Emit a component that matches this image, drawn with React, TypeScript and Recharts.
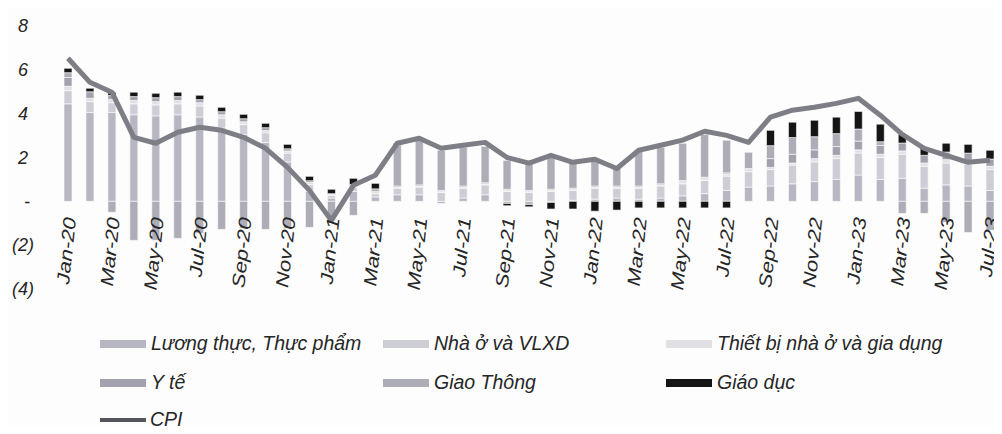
import React from 'react';
import { ComposedChart, Bar, Line, XAxis, YAxis, Legend } from 'recharts';

const months = [
  'Jan-20', 'Feb-20', 'Mar-20', 'Apr-20', 'May-20', 'Jun-20', 'Jul-20', 'Aug-20', 'Sep-20', 'Oct-20', 'Nov-20', 'Dec-20',
  'Jan-21', 'Feb-21', 'Mar-21', 'Apr-21', 'May-21', 'Jun-21', 'Jul-21', 'Aug-21', 'Sep-21', 'Oct-21', 'Nov-21', 'Dec-21',
  'Jan-22', 'Feb-22', 'Mar-22', 'Apr-22', 'May-22', 'Jun-22', 'Jul-22', 'Aug-22', 'Sep-22', 'Oct-22', 'Nov-22', 'Dec-22',
  'Jan-23', 'Feb-23', 'Mar-23', 'Apr-23', 'May-23', 'Jun-23', 'Jul-23',
];

// contributions to CPI, percentage points
const food = [
  4.45, 4.05, 4.05, 3.95, 3.9, 3.95, 3.85, 3.35, 3.05, 2.68, 1.8, 0.46,
  0.15, 0.45, 0.2, 0.3, 0.3, -0.1, 0.15, 0.3, -0.1, -0.15, -0.05, 0.05,
  0.1, 0.15, 0.1, 0.15, 0.25, 0.35, 0.5, 0.65, 0.7, 0.8, 0.9, 1.0,
  1.2, 1.0, 1.05, 0.6, 0.75, 0.7, 0.5,
];
const housing = [
  0.6, 0.5, 0.45, 0.5, 0.5, 0.5, 0.5, 0.45, 0.45, 0.45, 0.4, 0.3,
  0.12, 0.2, 0.15, 0.3, 0.35, 0.4, 0.45, 0.45, 0.45, 0.4, 0.45, 0.45,
  0.5, 0.45, 0.5, 0.55, 0.55, 0.6, 0.65, 0.7, 0.75, 0.85, 0.9, 0.95,
  1.0, 1.0, 1.1, 1.0, 1.0, 1.0, 0.95,
];
const equipment = [
  0.2, 0.15, 0.15, 0.15, 0.15, 0.15, 0.15, 0.15, 0.13, 0.1, 0.1, 0.1,
  0.05, 0.05, 0.05, 0.05, 0.05, 0.05, 0.05, 0.05, 0.05, 0.05, 0.05, 0.05,
  0.05, 0.05, 0.05, 0.05, 0.1, 0.1, 0.1, 0.1, 0.1, 0.1, 0.15, 0.15,
  0.15, 0.15, 0.15, 0.15, 0.15, 0.15, 0.15,
];
const health = [
  0.4, 0.3, 0.18, 0.18, 0.18, 0.18, 0.14, 0.14, 0.14, 0.13, 0.1, 0.08,
  0.03, 0.07, 0.05, 0.05, 0.05, 0.05, 0.05, 0.05, 0.05, 0.05, 0.05, 0.05,
  0.05, 0.05, 0.05, 0.05, 0.05, 0.05, 0.05, 0.05, 0.4, 0.4, 0.4, 0.4,
  0.4, 0.4, 0.36, 0.35, 0.35, 0.35, 0.33,
];
const transport = [
  0.22, 0.0, -0.5, -1.78, -1.78, -1.69, -1.46, -1.28, -1.23, -1.28, -1.23, -1.19,
  -0.87, -0.64, 0.12, 1.85, 2.04, 1.83, 1.77, 1.66, 1.32, 1.24, 1.45, 1.14,
  1.17, 0.8, 1.63, 1.67, 1.7, 1.96, 1.49, 0.74, 0.59, 0.76, 0.6, 0.59,
  0.55, 0.17, -0.55, -0.55, -0.96, -1.42, -1.32,
];
const education = [
  0.2, 0.16, 0.15, 0.2, 0.2, 0.2, 0.2, 0.2, 0.2, 0.2, 0.2, 0.2,
  0.2, 0.28, 0.25, 0.1, 0.0, 0.0, 0.0, 0.0, -0.1, -0.1, -0.3, -0.35,
  -0.45, -0.4, -0.3, -0.3, -0.3, -0.3, -0.3, 0.0, 0.7, 0.7, 0.75, 0.75,
  0.8, 0.8, 0.4, 0.37, 0.4, 0.4, 0.4,
];
const cpi = [
  6.53, 5.43, 4.98, 2.92, 2.65, 3.15, 3.38, 3.24, 2.92, 2.42, 1.55, 0.5,
  -0.87, 0.73, 1.19, 2.65, 2.88, 2.42, 2.56, 2.69, 2.0, 1.74, 2.1, 1.78,
  1.92, 1.5, 2.33, 2.56, 2.79, 3.2, 3.01, 2.69, 3.84, 4.16, 4.29, 4.47,
  4.7, 3.93, 3.06, 2.42, 2.1, 1.78, 1.87,
];

const yTicks = [-4, -2, 0, 2, 4, 6, 8];

const series = [
  { key: 'food', name: 'Lương thực, Thực phẩm', color: '#b7b7c3' },
  { key: 'housing', name: 'Nhà ở và VLXD', color: '#cdcdd5' },
  { key: 'equipment', name: 'Thiết bị nhà ở và gia dụng', color: '#e0e0e5' },
  { key: 'health', name: 'Y tế', color: '#a2a2ae' },
  { key: 'transport', name: 'Giao Thông', color: '#adadb8' },
  { key: 'education', name: 'Giáo dục', color: '#151515' },
];

const data = months.map((m, i) => ({
  month: m,
  food: food[i],
  housing: housing[i],
  equipment: equipment[i],
  health: health[i],
  transport: transport[i],
  education: education[i],
  cpi: cpi[i],
}));

const FONT = "'Liberation Sans', Arial, sans-serif";
const INK = '#262626';

const fmtY = (v: number) => (v === 0 ? '-' : v < 0 ? `(${-v})` : `${v}`);

const YTick = (props: any) => {
  const { x, y, payload } = props;
  const v = payload.value;
  const dx = v < 0 ? -23 : v === 0 ? -27 : -29;
  return (
    <text x={x + dx} y={y} dy="0.35em" textAnchor="end" fontFamily={FONT} fontStyle="italic" fontSize={18} fill={INK}>
      {fmtY(v)}
    </text>
  );
};

// month labels sit just under the zero line, almost vertical and stretched like the scan
const XTick = (props: any) => {
  const { x, y, payload } = props;
  return (
    <g transform={`translate(${x + 8},${y - 71})`}>
      <g transform="rotate(-84)">
        <g transform="scale(1.22,1)">
          <text x={0} y={0} textAnchor="end" fontFamily={FONT} fontStyle="italic" fontSize={18} fill={INK}>
            {payload.value}
          </text>
        </g>
      </g>
    </g>
  );
};

const legendRows = [
  ['food', 'housing', 'equipment'],
  ['health', 'transport', 'education'],
  ['cpi'],
];

const renderLegend = () => (
  <div style={{ height: 110, width: 1002, fontFamily: FONT, fontStyle: 'italic', fontSize: 19.5, color: INK, whiteSpace: 'nowrap' }}>
    {legendRows.map((row, r) => (
      <div key={r} style={{ display: 'flex', height: r < 2 ? 39 : 32, alignItems: r < 2 ? 'center' : 'flex-start', paddingLeft: 100 }}>
        {row.map((k) => {
          const s = series.find((d) => d.key === k);
          return (
            <div key={k} style={{ width: 283, display: 'flex', alignItems: 'center', marginTop: r < 2 ? 0 : 6 }}>
              {s ? (
                <span style={{ display: 'inline-block', width: 46, height: 8, background: s.color, marginRight: 5 }} />
              ) : (
                <span style={{ display: 'inline-block', width: 46, height: 4, background: '#55555c', marginRight: 4 }} />
              )}
              <span>{s ? s.name : 'CPI'}</span>
            </div>
          );
        })}
      </div>
    ))}
  </div>
);

export default function App() {
  return (
    <div style={{ margin: -8, width: 1002, height: 434, overflow: 'hidden', background: '#fdfdfd' }}>
      <ComposedChart
        width={1002}
        height={434}
        data={data}
        stackOffset="sign"
        margin={{ top: 26, right: 1, left: 0, bottom: 30 }}
      >
        <XAxis
          dataKey="month"
          interval={1}
          axisLine={false}
          tickLine={false}
          tickSize={0}
          tickMargin={0}
          height={5}
          tick={XTick}
        />
        <YAxis
          domain={[-4, 8]}
          ticks={yTicks}
          width={57}
          axisLine={false}
          tickLine={false}
          tickSize={0}
          tickMargin={0}
          tick={YTick}
        />
        {series.map((s) => (
          <Bar
            key={s.key}
            dataKey={s.key}
            name={s.name}
            stackId="a"
            fill={s.color}
            stroke="#fdfdfd"
            strokeWidth={0.6}
            barSize={8}
            isAnimationActive={false}
          />
        ))}
        <Line
          type="linear"
          dataKey="cpi"
          name="CPI"
          stroke="#7e7e86"
          strokeWidth={5}
          strokeLinejoin="round"
          dot={false}
          isAnimationActive={false}
        />
        <Legend verticalAlign="bottom" content={renderLegend} wrapperStyle={{ top: 324, bottom: 'auto', left: 0, width: 1002 }} />
      </ComposedChart>
    </div>
  );
}
